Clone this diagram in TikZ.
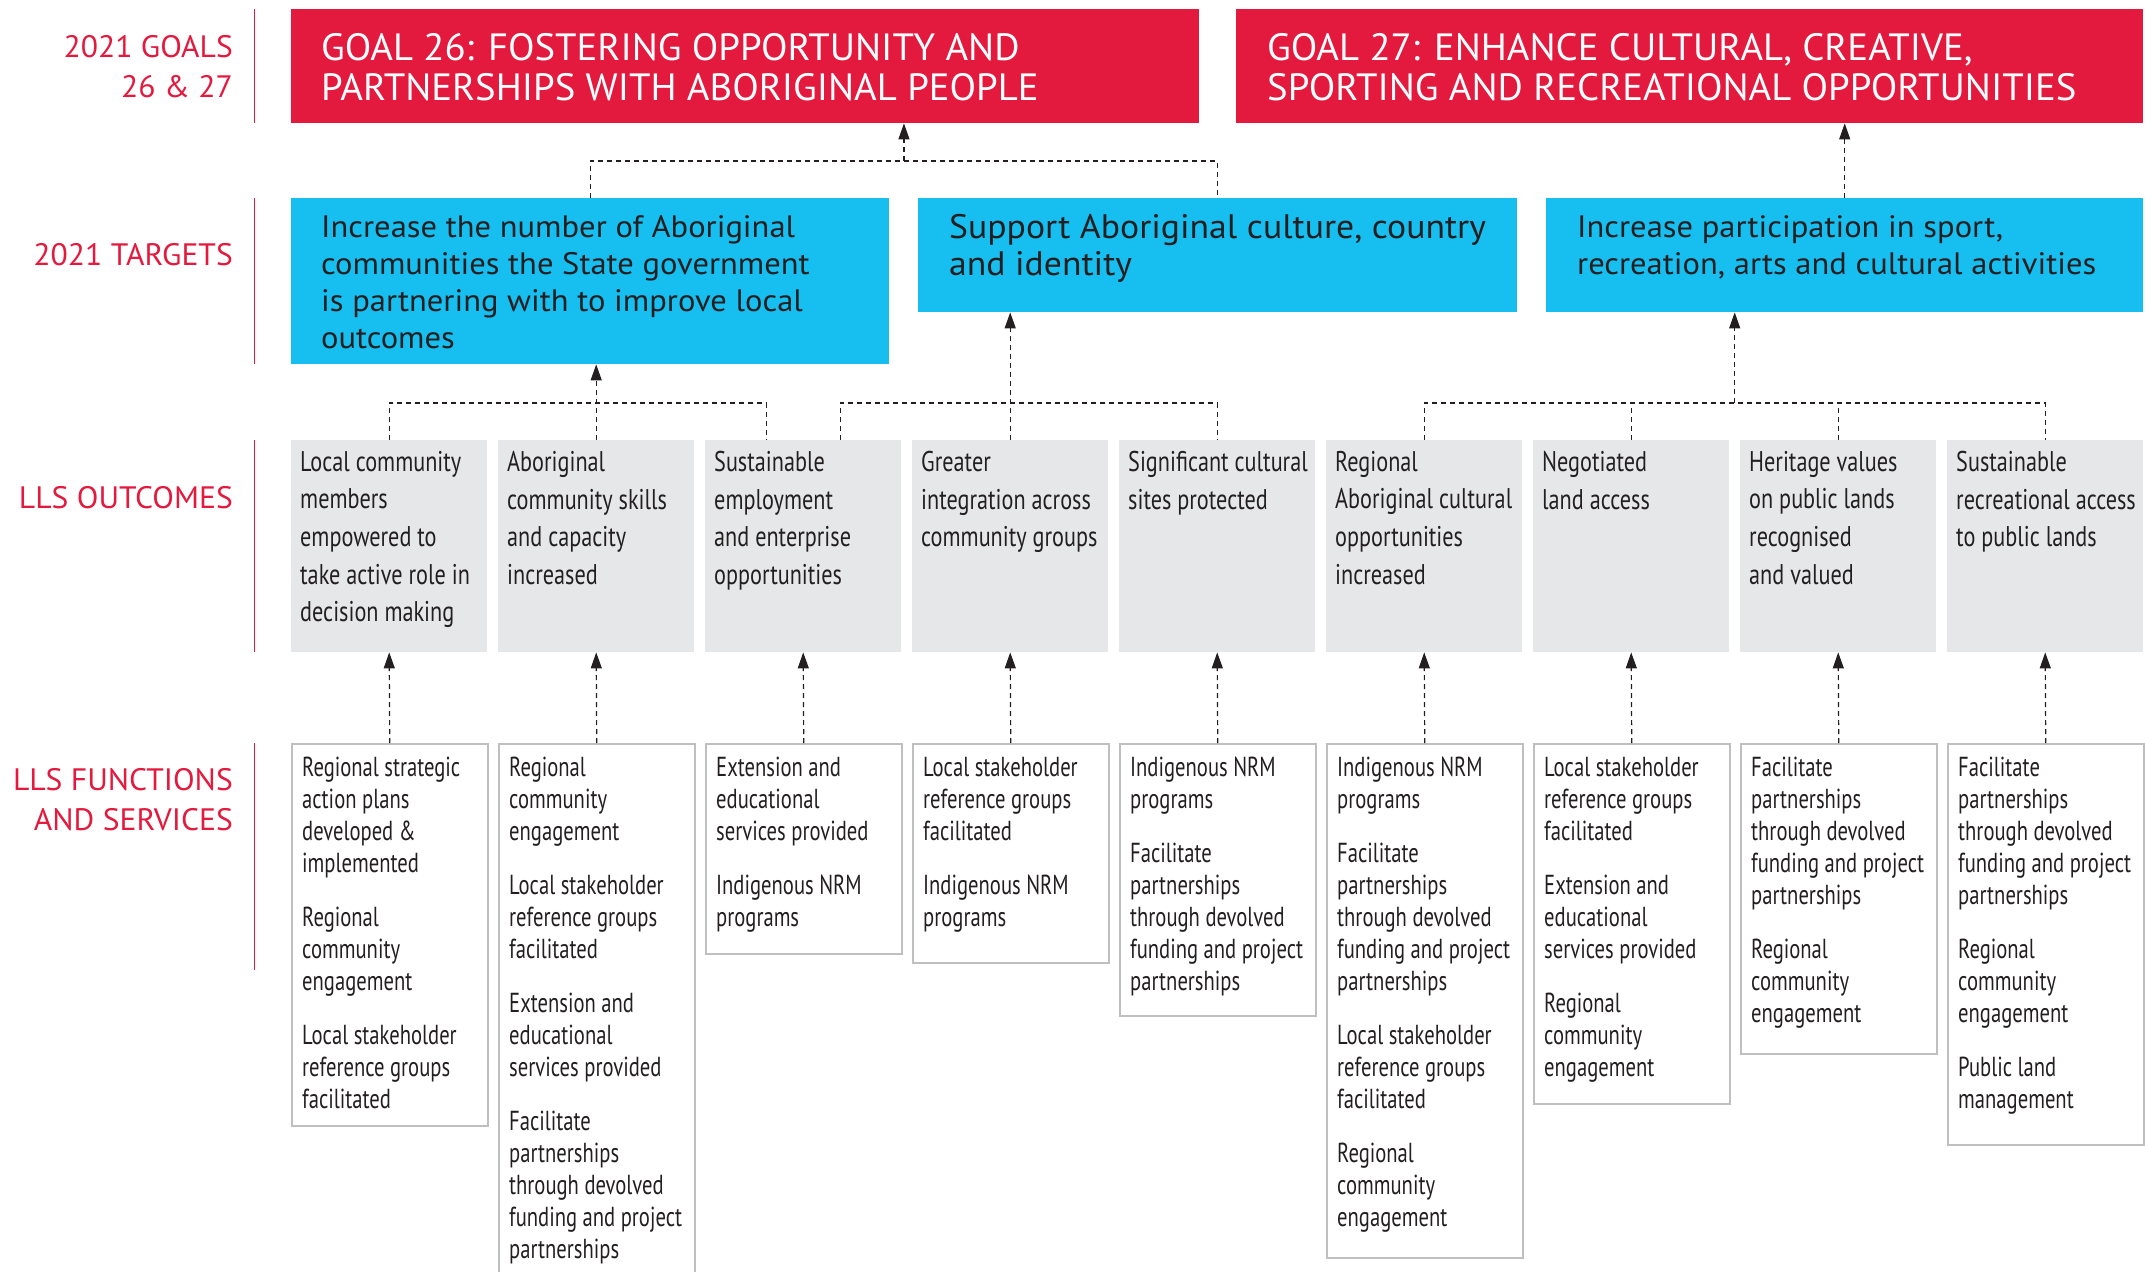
\documentclass[tikz,border=0pt]{standalone}
\usepackage{fontspec}
\setmainfont{PT Sans}
\newfontfamily\capsfont{PT Sans}[FakeStretch=1.02]
\newfontfamily\tgtfont{PT Sans}[FakeStretch=1.05]
\newfontfamily\outfont{PT Sans}[FakeStretch=0.78]
\newfontfamily\fnfont{PT Sans}[FakeStretch=0.75]
\usetikzlibrary{arrows.meta,calc}
\definecolor{goalred}{RGB}{228,25,62}
\definecolor{tgtblue}{RGB}{23,190,240}
\definecolor{outgray}{RGB}{230,231,232}
\definecolor{inkdark}{RGB}{35,31,32}
\definecolor{rulegray}{RGB}{190,191,193}

\begin{document}
\begin{tikzpicture}[x=1pt, y=-1pt,
  sidebar/.style={goalred, line width=1pt},
  sidelabel/.style={anchor=north east, align=right, inner sep=0pt, text=goalred,
    font=\capsfont\fontsize{31}{40}\selectfont},
  goalbox/.style={fill=goalred, anchor=north west, minimum height=114pt, inner sep=0pt},
  goaltext/.style={anchor=north west, align=left, inner sep=0pt, text=white,
    font=\capsfont\fontsize{38}{40.5}\selectfont},
  tgtbox/.style={fill=tgtblue, anchor=north west, inner sep=0pt},
  tgttext/.style={anchor=north west, align=left, inner sep=0pt, text=inkdark,
    font=\tgtfont\fontsize{31}{37}\selectfont},
  outbox/.style={fill=outgray, anchor=north west, minimum width=196pt, minimum height=212pt, inner sep=0pt},
  outtext/.style={anchor=north west, align=left, inner sep=0pt, text=inkdark,
    font=\outfont\fontsize{28.5}{37.6}\selectfont},
  fnbox/.style={draw=rulegray, line width=1.5pt, fill=white, anchor=north west, minimum width=196pt, inner sep=0pt},
  fntext/.style={anchor=north west, align=left, inner sep=0pt, text=inkdark,
    font=\fnfont\fontsize{27.5}{32}\selectfont},
  bus/.style={inkdark, line width=1.2pt, dash pattern=on 5pt off 4pt},
  link/.style={bus, -{Triangle[length=16pt,width=11pt]}}]
\clip (0,0) rectangle (2145,1272);

% row labels
\draw[sidebar] (254,9) -- (254,123);
\draw[sidebar] (254,198) -- (254,364);
\draw[sidebar] (254,440) -- (254,652);
\draw[sidebar] (254,743) -- (254,970);
\node[sidelabel] (lgoal) at (233,35) {2021 GOALS\\26 \& 27};
\node[sidelabel] (ltgt) at (233,243) {2021 TARGETS};
\node[sidelabel] (lout) at (233,486) {LLS OUTCOMES};
\node[sidelabel] (lfn) at (233,768) {LLS FUNCTIONS\\AND SERVICES};

% goals
\node[goalbox, minimum width=908pt] (goal26) at (291,9) {};
\node[goalbox, minimum width=907pt] (goal27) at (1236,9) {};
\node[goaltext] (goal26txt) at (321,33) {GOAL 26: FOSTERING OPPORTUNITY AND\\PARTNERSHIPS WITH ABORIGINAL PEOPLE};
\node[goaltext] (goal27txt) at (1267,33) {GOAL 27: ENHANCE CULTURAL, CREATIVE,\\SPORTING AND RECREATIONAL OPPORTUNITIES};

% targets
\node[tgtbox, minimum width=598pt, minimum height=166pt] (tgt1) at (291,198) {};
\node[tgtbox, minimum width=599pt, minimum height=114pt] (tgt2) at (918,198) {};
\node[tgtbox, minimum width=597pt, minimum height=114pt] (tgt3) at (1546,198) {};
\node[tgttext] (tgt1txt) at (321,215) {Increase the number of Aboriginal\\communities the State government\\is partnering with to improve local\\outcomes};
\node[tgttext, font=\tgtfont\fontsize{34}{37.5}\selectfont] (tgt2txt) at (949,214) {Support Aboriginal culture, country\\and identity};
\node[tgttext] (tgt3txt) at (1577,215) {Increase participation in sport,\\recreation, arts and cultural activities};

% outcomes
\node[outbox] (out1) at (291,440) {};
\node[outbox] (out2) at (498,440) {};
\node[outbox] (out3) at (705,440) {};
\node[outbox] (out4) at (912,440) {};
\node[outbox] (out5) at (1119,440) {};
\node[outbox] (out6) at (1326,440) {};
\node[outbox] (out7) at (1533,440) {};
\node[outbox] (out8) at (1740,440) {};
\node[outbox] (out9) at (1947,440) {};
\node[outtext] (out1txt) at (300,451) {Local community\\members\\empowered to\\take active role in\\decision making};
\node[outtext] (out2txt) at (507,451) {Aboriginal\\community skills\\and capacity\\increased};
\node[outtext] (out3txt) at (714,451) {Sustainable\\employment\\and enterprise\\opportunities};
\node[outtext] (out4txt) at (921,451) {Greater\\integration across\\community groups};
\node[outtext] (out5txt) at (1128,451) {Significant cultural\\sites protected};
\node[outtext] (out6txt) at (1335,451) {Regional\\Aboriginal cultural\\opportunities\\increased};
\node[outtext] (out7txt) at (1542,451) {Negotiated\\land access};
\node[outtext] (out8txt) at (1749,451) {Heritage values\\on public lands\\recognised\\and valued};
\node[outtext] (out9txt) at (1956,451) {Sustainable\\recreational access\\to public lands};

% functions and services
\node[fnbox, minimum height=382pt] (fn1) at (291,743) {};
\node[fnbox, minimum height=560pt] (fn2) at (498,743) {};
\node[fnbox, minimum height=210pt] (fn3) at (705,743) {};
\node[fnbox, minimum height=219pt] (fn4) at (912,743) {};
\node[fnbox, minimum height=272pt] (fn5) at (1119,743) {};
\node[fnbox, minimum height=514pt] (fn6) at (1326,743) {};
\node[fnbox, minimum height=360pt] (fn7) at (1533,743) {};
\node[fnbox, minimum height=310pt] (fn8) at (1740,743) {};
\node[fnbox, minimum height=401pt] (fn9) at (1947,743) {};
\node[fntext] (fn1txt) at (302,757) {Regional strategic\\action plans\\developed \&\\implemented\\[22pt]
  Regional\\community\\engagement\\[22pt]Local stakeholder\\reference groups\\facilitated};
\node[fntext] (fn2txt) at (509,757) {Regional\\community\\engagement\\[22pt]Local stakeholder\\reference groups\\facilitated\\[22pt]
  Extension and\\educational\\services provided\\[22pt]Facilitate\\partnerships\\through devolved\\funding and project\\partnerships};
\node[fntext] (fn3txt) at (716,757) {Extension and\\educational\\services provided\\[22pt]Indigenous NRM\\programs};
\node[fntext] (fn4txt) at (923,757) {Local stakeholder\\reference groups\\facilitated\\[22pt]Indigenous NRM\\programs};
\node[fntext] (fn5txt) at (1130,757) {Indigenous NRM\\programs\\[22pt]Facilitate\\partnerships\\through devolved\\funding and project\\partnerships};
\node[fntext] (fn6txt) at (1337,757) {Indigenous NRM\\programs\\[22pt]Facilitate\\partnerships\\through devolved\\funding and project\\partnerships\\[22pt]
  Local stakeholder\\reference groups\\facilitated\\[22pt]Regional\\community\\engagement};
\node[fntext] (fn7txt) at (1544,757) {Local stakeholder\\reference groups\\facilitated\\[22pt]Extension and\\educational\\services provided\\[22pt]
  Regional\\community\\engagement};
\node[fntext] (fn8txt) at (1751,757) {Facilitate\\partnerships\\through devolved\\funding and project\\partnerships\\[22pt]
  Regional\\community\\engagement};
\node[fntext] (fn9txt) at (1958,757) {Facilitate\\partnerships\\through devolved\\funding and project\\partnerships\\[22pt]
  Regional\\community\\engagement\\[22pt]Public land\\management};

% functions -> outcomes
\draw[link] (fn1.north) -- (out1.south);
\draw[link] (fn2.north) -- (out2.south);
\draw[link] (fn3.north) -- (out3.south);
\draw[link] (fn4.north) -- (out4.south);
\draw[link] (fn5.north) -- (out5.south);
\draw[link] (fn6.north) -- (out6.south);
\draw[link] (fn7.north) -- (out7.south);
\draw[link] (fn8.north) -- (out8.south);
\draw[link] (fn9.north) -- (out9.south);

% outcomes -> targets
\coordinate (out3a) at ([xshift=-37pt]out3.north);
\coordinate (out3b) at ([xshift=37pt]out3.north);
\draw[bus] (out1.north) -- ++(0,-37) -| (out3a);
\draw[link] (out2.north) -- (out2.north |- tgt1.south);
\draw[bus] (out3b) -- ++(0,-37) -| (out5.north);
\draw[link] (out4.north) -- (out4.north |- tgt2.south);
\draw[bus] (out6.north) -- ++(0,-37) -| (out9.north);
\draw[bus] (out7.north) -- ++(0,-37);
\draw[bus] (out8.north) -- ++(0,-37);
\coordinate (bus3) at ($(out6.north)!0.5!(out9.north) + (0,-37)$);
\draw[link] (bus3) -- (bus3 |- tgt3.south);

% targets -> goals
\draw[bus] (tgt1.north) -- ++(0,-37) -| (tgt2.north);
\coordinate (bus1) at ($(tgt1.north)!0.5!(tgt2.north) + (0,-37)$);
\draw[link] (bus1) -- (bus1 |- goal26.south);
\draw[link] (tgt3.north) -- (tgt3.north |- goal27.south);
\end{tikzpicture}
\end{document}
